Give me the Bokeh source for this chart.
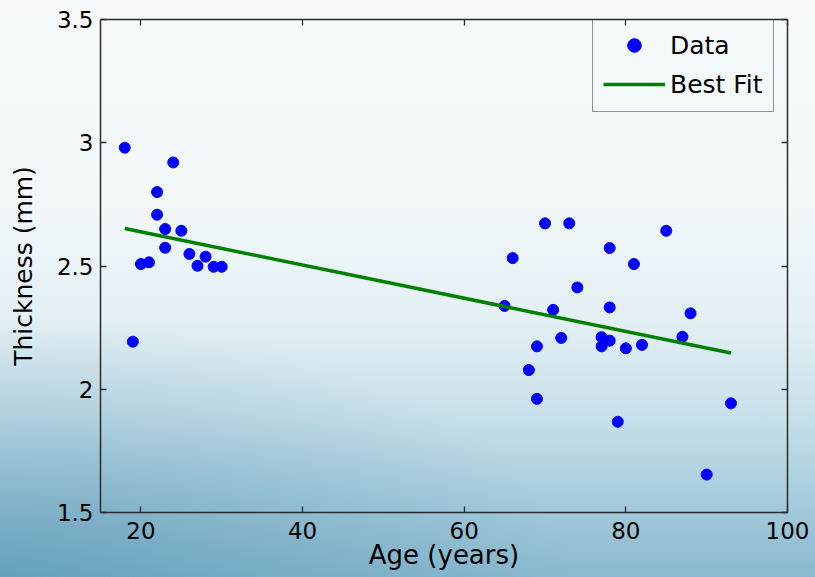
from bokeh.plotting import figure
from bokeh.models import Range1d, FixedTicker, LinearAxis
from bokeh.embed import file_html
from bokeh.resources import INLINE

# ---- data ----
age = [18, 19, 20, 21, 22, 22, 23, 23, 24, 25, 26, 27, 28, 29, 30,
       65, 66, 68, 69, 69, 70, 71, 72, 73, 74, 77, 77, 78, 78, 78,
       79, 80, 81, 82, 85, 87, 88, 90, 93]
thickness = [2.98, 2.193, 2.508, 2.515, 2.80, 2.708, 2.65, 2.574, 2.92, 2.643,
             2.549, 2.501, 2.538, 2.497, 2.497,
             2.338, 2.532, 2.078, 2.174, 1.961, 2.673, 2.322, 2.208, 2.673, 2.413,
             2.211, 2.174, 2.573, 2.332, 2.197,
             1.868, 2.166, 2.508, 2.18, 2.643, 2.213, 2.308, 1.654, 1.943]
fit_age = [18, 93]
fit_thickness = [2.652, 2.147]

x_ticks = [20, 40, 60, 80, 100]
y_ticks = [1.5, 2, 2.5, 3, 3.5]
y_tick_labels = ["1.5", "2", "2.5", "3", "3.5"]

FONT = "DejaVu Sans"
AXIS_COLOR = "#2b2b2b"

p = figure(width=815, height=577, output_backend="svg", toolbar_location=None, tools="",
           x_range=Range1d(15, 100), y_range=Range1d(1.5, 3.5),
           min_border_left=100, min_border_right=28, min_border_top=19, min_border_bottom=65)
p.border_fill_color = None
p.background_fill_color = None
p.outline_line_color = None
p.styles = {"background": (
    "radial-gradient(ellipse 70% 45% at 0% 100%, rgba(60,130,165,0.45) 0%, rgba(60,130,165,0) 100%), "
    "linear-gradient(to bottom, #f5f9fb 0%, #f2f8fa 35%, #e4f0f4 55%, #c8e0ea 72%, #a5cbdb 87%, #88b9ce 100%)"
)}
p.xgrid.visible = False
p.ygrid.visible = False


def style_axis(ax, ticks):
    ax.ticker = FixedTicker(ticks=ticks)
    ax.minor_tick_line_color = None
    ax.major_tick_in = 6
    ax.major_tick_out = 0
    ax.axis_line_color = AXIS_COLOR
    ax.axis_line_width = 1.5
    ax.major_tick_line_color = AXIS_COLOR
    ax.major_tick_line_width = 1.3
    ax.major_label_text_font = FONT
    ax.major_label_text_font_size = "23px"
    ax.major_label_text_color = "black"


xa = p.xaxis[0]
style_axis(xa, x_ticks)
xa.major_label_standoff = 9
xa.axis_label = "Age (years)"
xa.axis_label_text_font = FONT
xa.axis_label_text_font_size = "26px"
xa.axis_label_text_font_style = "normal"
xa.axis_label_text_color = "black"
xa.axis_label_standoff = -2

ya = p.yaxis[0]
style_axis(ya, y_ticks)
ya.major_label_standoff = 7
ya.major_label_overrides = {t: s for t, s in zip(y_ticks, y_tick_labels)}
ya.axis_label = "Thickness (mm)"
ya.axis_label_text_font = FONT
ya.axis_label_text_font_size = "25px"
ya.axis_label_text_font_style = "normal"
ya.axis_label_text_color = "black"
ya.axis_label_standoff = 16

top = LinearAxis()
style_axis(top, x_ticks)
top.major_label_text_font_size = "1px"
top.major_label_text_color = None
top.major_label_standoff = 0
p.add_layout(top, "above")

right = LinearAxis()
style_axis(right, y_ticks)
right.major_label_text_font_size = "1px"
right.major_label_text_color = None
right.major_label_standoff = 0
p.add_layout(right, "right")

p.scatter(age, thickness, size=11, color="#0000ff", line_color="#0000ff", legend_label="Data")
p.line(fit_age, fit_thickness, line_color="#008000", line_width=3.5, legend_label="Best Fit")

lg = p.legend[0]
lg.location = (492, 400)
lg.padding = 10
lg.margin = 0
lg.spacing = 5
lg.glyph_width = 62
lg.glyph_height = 34
lg.label_height = 34
lg.label_standoff = 5
lg.label_text_font = FONT
lg.label_text_font_size = "25px"
lg.label_text_color = "black"
lg.border_line_color = AXIS_COLOR
lg.border_line_width = 1.3
lg.background_fill_alpha = 0

open("out.html", "w").write(file_html(p, INLINE))
